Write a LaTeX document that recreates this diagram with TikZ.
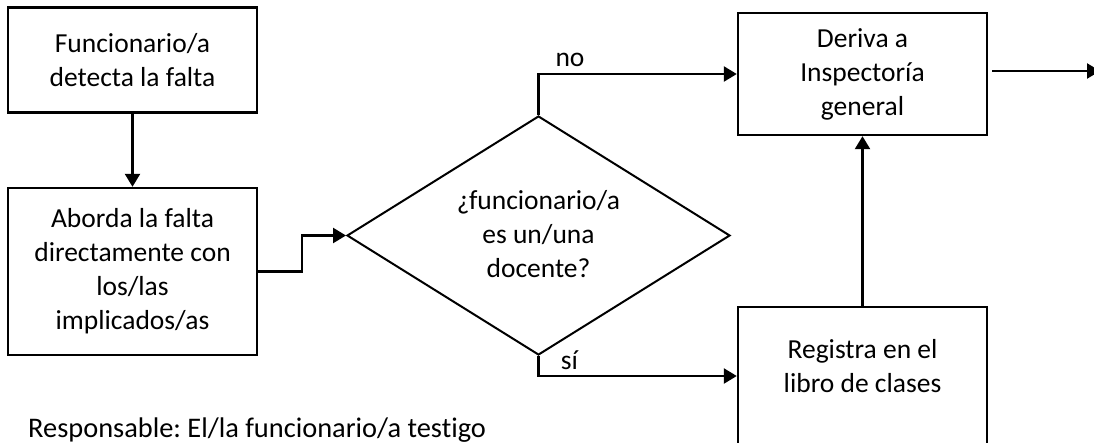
\documentclass[tikz,border=0pt]{standalone}
\usepackage{fontspec}
\setmainfont{Carlito}[Ligatures=NoCommon]
\usetikzlibrary{shapes.geometric,arrows.meta}
\begin{document}
\frenchspacing
\begin{tikzpicture}[x=1pt,y=-1pt,
  txt/.style={font=\fontsize{27.5}{34}\selectfont, align=center, inner sep=0pt},
  box/.style={draw, line width=2.4pt, rectangle, inner sep=0pt, minimum width=249pt},
  arr/.style={line width=2.4pt, -{Triangle[length=13pt,width=15pt]}}]
\useasboundingbox (0,0) rectangle (1094,442);
\clip (0,0) rectangle (1094,442);
\fill[white] (0,0) rectangle (1094,442);
% boxes
\node[box, txt, minimum height=105pt] (b1) at (132.5,60) {Funcionario/a\\detecta la falta};
\node[box, txt, minimum height=167pt] (b2) at (132.5,271.5) {Aborda la falta\\directamente con\\los/las\\implicados/as};
\node[draw, line width=2pt, diamond, aspect=1.6, minimum width=383pt, minimum height=239pt, inner sep=0pt] (dia) at (538.5,235.5) {};
\node[txt] (diat) at (538.5,234) {¿funcionario/a\\es un/una\\docente?};
\node[box, txt, minimum height=122pt] (b3) at (862.5,74) {Deriva a\\Inspectoría\\general};
\node[box, minimum height=180pt] (b4) at (862.5,397) {};
\node[txt] (b4t) at (862.5,366) {Registra en el\\libro de clases};
% labels
\node[txt, anchor=base] (no) at (570,66) {no};
\node[txt, anchor=base] (si) at (569.5,369) {sí};
\node[font=\fontsize{28.4}{34}\selectfont, inner sep=0pt, anchor=base west] (resp) at (28,437) {Responsable: El/la funcionario/a testigo};
% connectors
\draw[arr] (b1.south) -- (b2.north);
\draw[arr] (b2.east) -- ++(44,0) |- (dia.west);
\draw[arr] (dia.north) |- (b3.west);
\draw[arr] (dia.south) -- ++(0,20) coordinate (sj) -- (sj -| b4.west);
\draw[arr] (b4.north) -- (b3.south);
\coordinate (out) at (1100,71);
\draw[arr] ([xshift=4pt]b3.east |- out) -- (out);
\end{tikzpicture}
\end{document}
